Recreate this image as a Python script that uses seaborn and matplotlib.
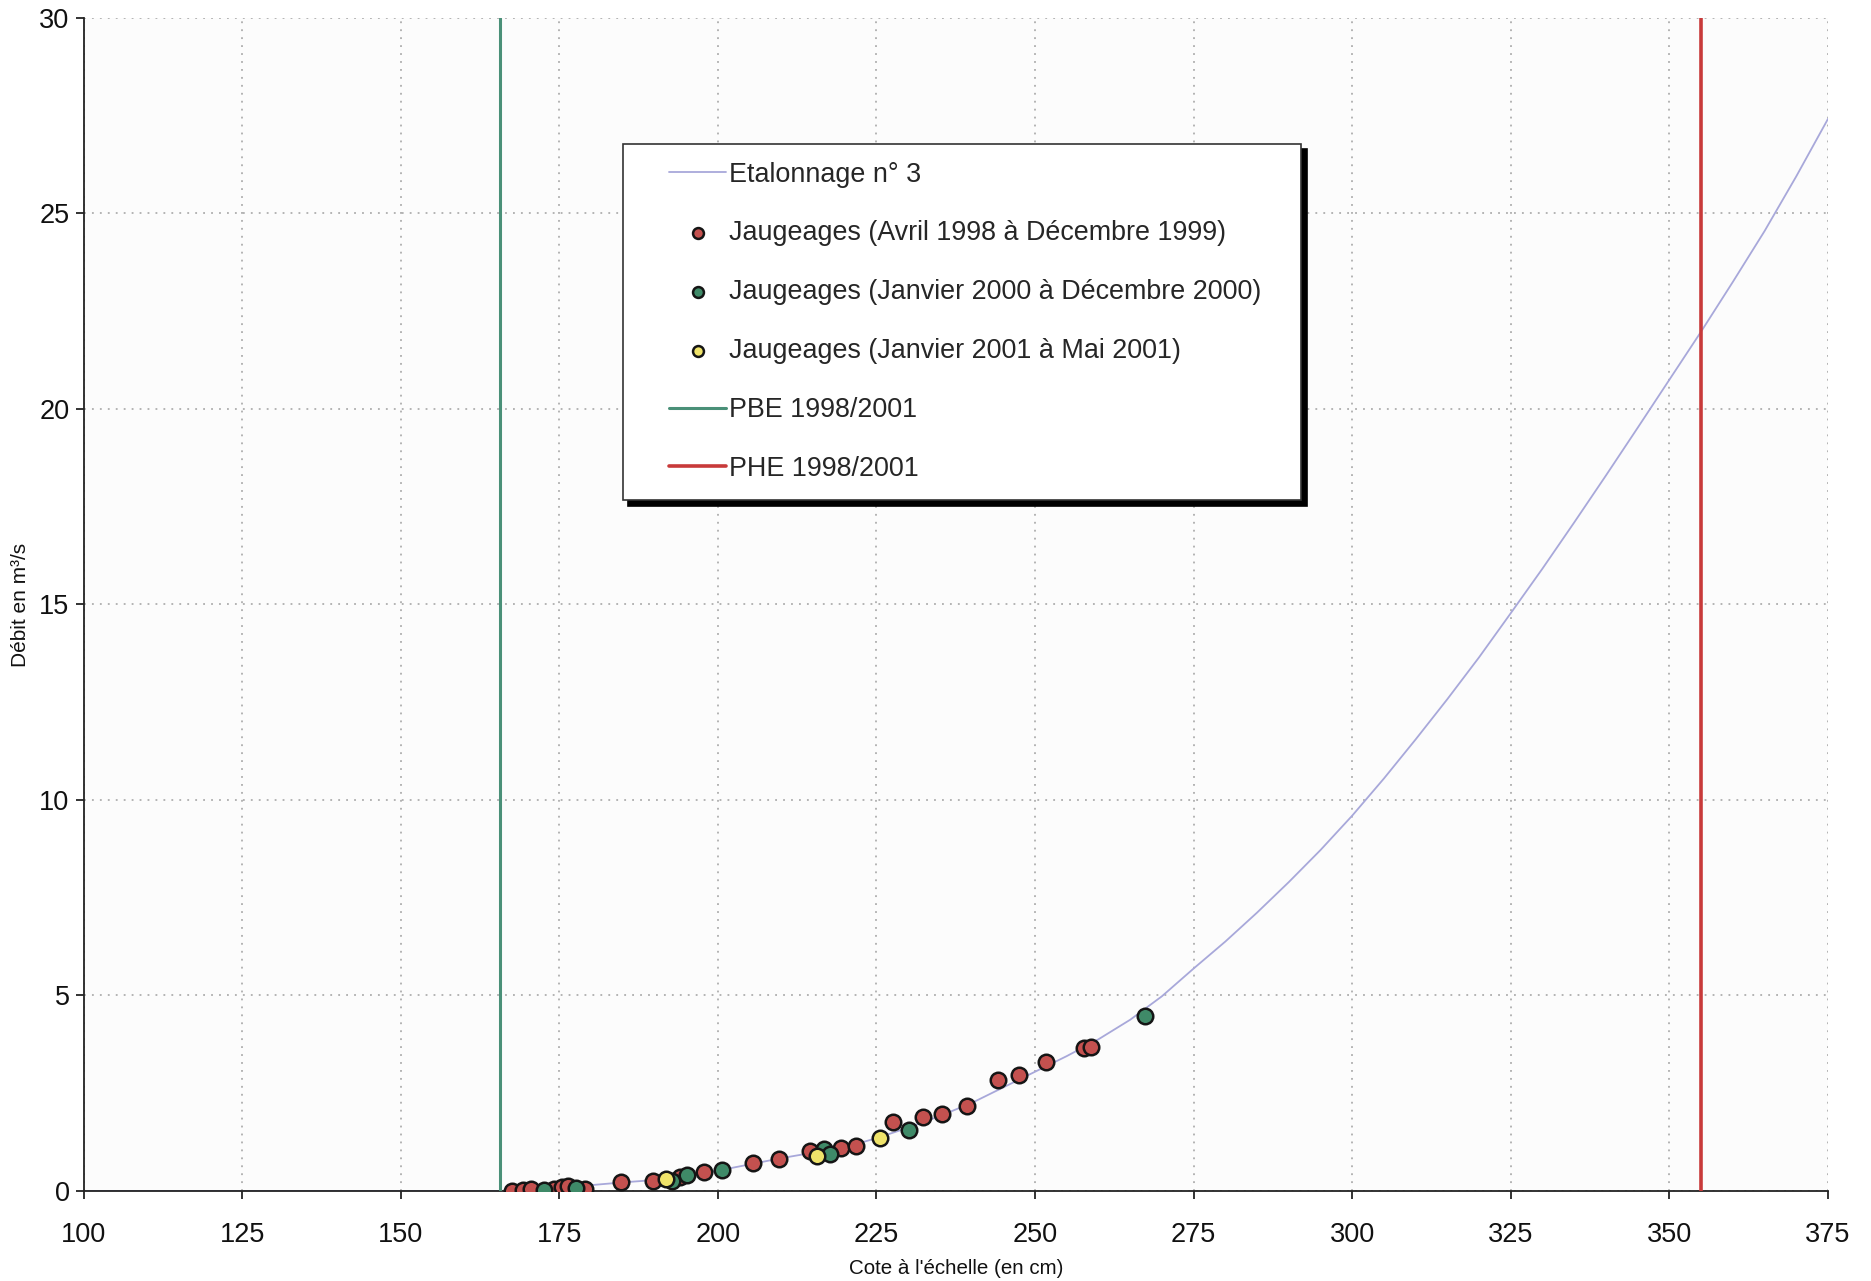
import numpy as np
import pandas as pd
import matplotlib
matplotlib.use("Agg")
import matplotlib.pyplot as plt
import seaborn as sns
from matplotlib.legend_handler import HandlerLine2D, HandlerPathCollection

# ---------------- data ----------------
curve_cote = [100, 120, 150, 165, 170, 175, 180, 185, 190, 195, 200, 205, 210, 215,
              220, 225, 230, 235, 240, 245, 250, 255, 260, 265, 270, 275, 280, 285,
              290, 295, 300, 305, 310, 315, 320, 325, 330, 335, 340, 345, 350, 355,
              360, 365, 370, 375]
curve_debit = [0.0, 0.0, 0.0, 0.0, 0.02, 0.07, 0.15, 0.22, 0.28, 0.38, 0.52, 0.68, 0.84, 0.98,
               1.12, 1.35, 1.62, 1.92, 2.25, 2.65, 3.05, 3.45, 3.88, 4.38, 4.98, 5.69, 6.38, 7.12,
               7.90, 8.72, 9.60, 10.55, 11.55, 12.58, 13.65, 14.78, 15.92, 17.1, 18.3, 19.52, 20.75, 21.98,
               23.25, 24.55, 25.95, 27.42]

red_cote = [167.5, 169.3, 170.6, 174.1, 175.4, 176.4, 179.0, 184.8, 189.7, 194.0, 197.8,
            205.5, 209.7, 214.5, 219.4, 221.8, 227.6, 232.3, 235.3, 239.2, 244.2,
            247.4, 251.7, 257.7, 258.9]
red_debit = [0.0, 0.02, 0.04, 0.06, 0.09, 0.13, 0.04, 0.24, 0.26, 0.37, 0.49,
             0.71, 0.82, 1.03, 1.09, 1.15, 1.77, 1.88, 1.97, 2.18, 2.84,
             2.97, 3.31, 3.65, 3.69]

green_cote = [172.6, 177.7, 192.7, 195.2, 200.7, 216.8, 217.7, 230.2, 267.3]
green_debit = [0.03, 0.07, 0.26, 0.41, 0.54, 1.07, 0.95, 1.56, 4.48]

yellow_cote = [191.8, 215.7, 225.5]
yellow_debit = [0.30, 0.90, 1.35]

pbe_cote = 165.6
phe_cote = 355.0

x_ticks = [100, 125, 150, 175, 200, 225, 250, 275, 300, 325, 350, 375]
y_ticks = [0, 5, 10, 15, 20, 25, 30]

labels = ["Etalonnage n° 3",
          "Jaugeages (Avril 1998 à Décembre 1999)",
          "Jaugeages (Janvier 2000 à Décembre 2000)",
          "Jaugeages (Janvier 2001 à Mai 2001)",
          "PBE 1998/2001",
          "PHE 1998/2001"]

# ---------------- styling ----------------
sns.set_theme(style="white")
plt.rcParams['font.family'] = ['Liberation Sans', 'DejaVu Sans']

fig = plt.figure(figsize=(18.71, 12.81), dpi=100)
fig.patch.set_facecolor("white")
ax = fig.add_axes([0.04463, 0.07026, 0.93238, 0.91569])
ax.set_facecolor("#fcfcfc")

c_curve = "#a8a8da"
c_red = "#c4514f"
c_green = "#3f8a68"
c_yellow = "#efe36a"
c_pbe = "#4a9078"
c_phe = "#c83a3a"

sns.lineplot(x=curve_cote, y=curve_debit, color=c_curve, linewidth=1.3, ax=ax,
             sort=False, label=labels[0], zorder=2)

mk = dict(s=125, edgecolor="#151515", linewidth=1.8, zorder=4, ax=ax)
sns.scatterplot(x=red_cote, y=red_debit, color=c_red, label=labels[1], **mk)
sns.scatterplot(x=green_cote, y=green_debit, color=c_green, label=labels[2], **mk)
sns.scatterplot(x=yellow_cote, y=yellow_debit, color=c_yellow, label=labels[3], **mk)

ax.axvline(pbe_cote, color=c_pbe, linewidth=2.2, label=labels[4], zorder=3)
ax.axvline(phe_cote, color=c_phe, linewidth=2.6, label=labels[5], zorder=3)

ax.set_xlim(100, 375)
ax.set_ylim(0, 30)
ax.set_xticks(x_ticks)
ax.set_yticks(y_ticks)
ax.tick_params(axis="both", labelsize=19.5, colors="#111111", direction="out",
               length=6, width=1.2, bottom=True, left=True)
ax.tick_params(axis="x", pad=16)
ax.tick_params(axis="y", pad=4)

ax.grid(True, linestyle=(0, (1.2, 4)), color="#a0a0a0", linewidth=1.1)
for s in ["top", "right"]:
    ax.spines[s].set_visible(False)
for s in ["left", "bottom"]:
    ax.spines[s].set_color("#222222")
    ax.spines[s].set_linewidth(1.3)

ax.set_xlabel("Cote à l'échelle (en cm)", fontsize=14.8, labelpad=8, color="#111111")
ax.set_ylabel("Débit en m³/s", fontsize=15, labelpad=7, color="#111111")

# ---------------- legend ----------------
handles, labs = ax.get_legend_handles_labels()
order = [labs.index(l) for l in labels]
handles = [handles[i] for i in order]

leg = ax.legend(handles, labels, loc="upper left",
                bbox_to_anchor=(0.309, 0.591, 0.389, 0.302), mode="expand",
                fontsize=19.4, frameon=True, fancybox=False, framealpha=1,
                edgecolor="#333333", facecolor="white",
                borderpad=0.67, labelspacing=1.22, handlelength=3.18,
                handletextpad=0.1, borderaxespad=0, markerscale=0.7,
                shadow={'ox': 4, 'oy': -4, 'facecolor': 'black',
                        'edgecolor': 'black', 'alpha': 1},
                handler_map={matplotlib.lines.Line2D: HandlerLine2D(xpad=1.06),
                             matplotlib.collections.PathCollection: HandlerPathCollection(xpad=1.06)})
leg.get_frame().set_linewidth(1.2)
leg.set_zorder(10)

fig.savefig("out.png", dpi=100, facecolor="white")
